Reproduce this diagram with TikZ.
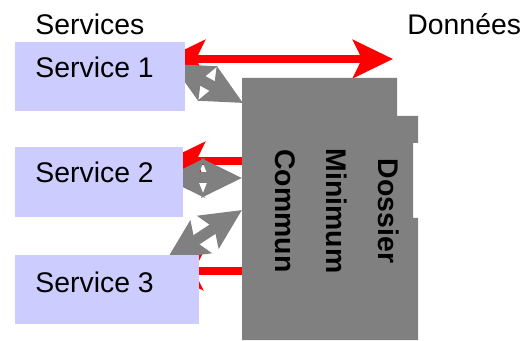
\documentclass[tikz,border=0pt]{standalone}
\usepackage{fontspec}
\setmainfont{Liberation Sans}
\usetikzlibrary{arrows.meta}
\definecolor{svc}{HTML}{CCCCFF}
\definecolor{dmc}{HTML}{808080}
\begin{document}
\begin{tikzpicture}[x=0.5pt,y=-0.5pt,
  >={Stealth[length=20pt,width=19pt,inset=4.5pt]},
  redarr/.style={draw=red,line width=4pt},
  grayarr/.style={draw=dmc,line width=5.5pt,
    >={Stealth[length=20pt,width=19pt,inset=3.5pt]}},
  svcbox/.style={fill=svc,inner sep=0pt,anchor=north west},
  lbl/.style={anchor=base west,inner sep=0pt,font=\fontsize{14.2pt}{17pt}\selectfont},
  vlbl/.style={anchor=base,inner sep=0pt,rotate=-90,font=\fontsize{14.2pt}{17pt}\selectfont\bfseries}]
\useasboundingbox (0,0) rectangle (528,341);
% headers
\node[lbl] (hs) at (35,35) {Services};
\node[lbl] (hd) at (407,35) {Données};
% arrow end points
\coordinate (r1a) at (165,59);
\coordinate (r1b) at (393,59);
\coordinate (r2a) at (165,161);
\coordinate (r2b) at (242,161);
\coordinate (r3a) at (163,271);
\coordinate (r3b) at (242,271);
\coordinate (g1a) at (172,64);
\coordinate (g1b) at (243,103);
\coordinate (g2a) at (164,178);
\coordinate (g2b) at (242,178);
\coordinate (g3a) at (167,259);
\coordinate (g3b) at (242,210);
% red arrows
\draw[redarr,<->] (r1a) -- (r1b);
\draw[redarr,<-] (r2a) -- (r2b);
\draw[redarr,<-] (r3a) -- (r3b);
% gray arrows
\draw[grayarr,<->] (g1a) -- (g1b);
\draw[grayarr,<->] (g2a) -- (g2b);
\draw[grayarr,<->] (g3a) -- (g3b);
% dossier minimum commun block
\fill[dmc] (242,78) -- (397,78) -- (397,116) -- (418,116) -- (418,143) -- (413,143)
  -- (413,218) -- (418,218) -- (418,340) -- (242,340) -- cycle;
\node[vlbl] (t1) at (378,211) {Dossier};
\node[vlbl] (t2) at (326,211) {Minimum};
\node[vlbl] (t3) at (275,211) {Commun};
% service boxes
\node[svcbox,minimum width=85pt,minimum height=34.5pt] (s1) at (15,42) {};
\node[svcbox,minimum width=84pt,minimum height=35pt] (s2) at (15,147) {};
\node[svcbox,minimum width=92pt,minimum height=34.5pt] (s3) at (15,255) {};
\node[lbl] (l1) at (35,78) {Service 1};
\node[lbl] (l2) at (35,183) {Service 2};
\node[lbl] (l3) at (35,292) {Service 3};
\end{tikzpicture}
\end{document}
